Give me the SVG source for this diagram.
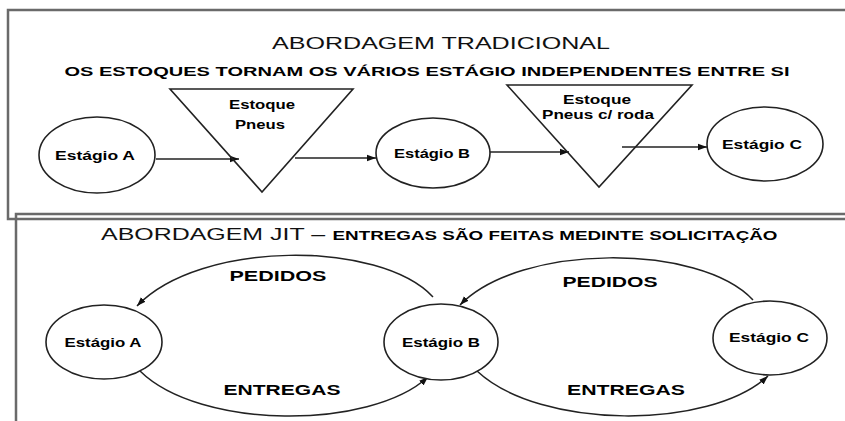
<svg xmlns="http://www.w3.org/2000/svg" width="845" height="421" viewBox="0 0 845 421">
<defs>
<marker id="ah" markerUnits="userSpaceOnUse" markerWidth="10" markerHeight="8" refX="9" refY="4" orient="auto">
<path d="M0,0.8 L9,4 L0,7.2 Z" fill="#111"/>
</marker>
<style>
.frame{fill:none;stroke:#6a6a6a;stroke-width:2.5}
.node{fill:#fff;stroke:#222;stroke-width:1.6}
.tri{fill:#fff;stroke:#222;stroke-width:1.6}
.con{fill:none;stroke:#222;stroke-width:1.5}
.title{font-family:"Liberation Sans",Arial,sans-serif;font-size:17px;fill:#111;text-anchor:middle}
.bold{font-family:"Liberation Sans",Arial,sans-serif;font-weight:bold;fill:#000;text-anchor:middle}
.lbl{font-family:"Liberation Sans",Arial,sans-serif;font-weight:bold;font-size:12px;fill:#000;text-anchor:middle}
.elbl{font-family:"Liberation Sans",Arial,sans-serif;font-weight:bold;font-size:14px;fill:#000;text-anchor:middle}
</style>
</defs>
<rect width="845" height="421" fill="#fff"/>

<g id="frames">
<rect class="frame" x="8" y="10" width="850" height="209"/>
<rect class="frame" x="16" y="214" width="850" height="220"/>
</g>

<g id="titles">
<text class="title" x="441" y="49" textLength="338" lengthAdjust="spacingAndGlyphs">ABORDAGEM TRADICIONAL</text>
<text class="bold" x="427" y="76" font-size="13" textLength="725" lengthAdjust="spacingAndGlyphs">OS ESTOQUES TORNAM OS VÁRIOS ESTÁGIO INDEPENDENTES ENTRE SI</text>
<text class="title" x="213" y="240" text-anchor="middle" textLength="224" lengthAdjust="spacingAndGlyphs">ABORDAGEM JIT –</text>
<text class="bold" x="555" y="240" font-size="13" textLength="445" lengthAdjust="spacingAndGlyphs">ENTREGAS SÃO FEITAS MEDINTE SOLICITAÇÃO</text>
</g>

<g id="connectors">
<line class="con" x1="156" y1="159" x2="239" y2="159" marker-end="url(#ah)"/>
<line class="con" x1="295" y1="158" x2="376" y2="158" marker-end="url(#ah)"/>
<line class="con" x1="488" y1="152" x2="569" y2="152" marker-end="url(#ah)"/>
<line class="con" x1="622" y1="147" x2="707" y2="147" marker-end="url(#ah)"/>
<path class="con" d="M433,297 C380,240 200,240 137,306" marker-end="url(#ah)"/>
<path class="con" d="M140,371 C200,430 370,430 428,377" marker-end="url(#ah)"/>
<path class="con" d="M753,300 C700,243 520,243 460,305" marker-end="url(#ah)"/>
<path class="con" d="M477,371 C540,430 710,430 768,376" marker-end="url(#ah)"/>
</g>

<g id="stock1">
<polygon class="tri" points="170,89 353,89 262,192" fill-opacity="0"/>
<text class="lbl" x="262" y="109" textLength="66" lengthAdjust="spacingAndGlyphs">Estoque</text>
<text class="lbl" x="260" y="129" textLength="50" lengthAdjust="spacingAndGlyphs">Pneus</text>
</g>
<g id="stock2">
<polygon class="tri" points="507,85 692,85 599,187" fill-opacity="0"/>
<text class="lbl" x="597" y="104" textLength="68" lengthAdjust="spacingAndGlyphs">Estoque</text>
<text class="lbl" x="598" y="119" textLength="112" lengthAdjust="spacingAndGlyphs">Pneus c/ roda</text>
</g>

<g id="stageA_top">
<ellipse class="node" cx="97" cy="155" rx="58" ry="38"/>
<text class="lbl" x="95" y="160" textLength="80" lengthAdjust="spacingAndGlyphs">Estágio A</text>
</g>
<g id="stageB_top">
<ellipse class="node" cx="433" cy="153" rx="57" ry="35"/>
<text class="lbl" x="432" y="158" textLength="76" lengthAdjust="spacingAndGlyphs">Estágio B</text>
</g>
<g id="stageC_top">
<ellipse class="node" cx="765" cy="144" rx="58" ry="37"/>
<text class="lbl" x="762" y="149" textLength="80" lengthAdjust="spacingAndGlyphs">Estágio C</text>
</g>

<g id="stageA_jit">
<ellipse class="node" cx="104" cy="342" rx="58" ry="37"/>
<text class="lbl" x="103" y="347" textLength="77" lengthAdjust="spacingAndGlyphs">Estágio A</text>
</g>
<g id="stageB_jit">
<ellipse class="node" cx="441" cy="342" rx="57" ry="38"/>
<text class="lbl" x="441" y="347" textLength="78" lengthAdjust="spacingAndGlyphs">Estágio B</text>
</g>
<g id="stageC_jit">
<ellipse class="node" cx="770" cy="338" rx="57" ry="37"/>
<text class="lbl" x="769" y="342" textLength="80" lengthAdjust="spacingAndGlyphs">Estágio C</text>
</g>

<g id="labels">
<text class="elbl" x="278" y="281" textLength="97" lengthAdjust="spacingAndGlyphs">PEDIDOS</text>
<text class="elbl" x="282" y="395" textLength="117" lengthAdjust="spacingAndGlyphs">ENTREGAS</text>
<text class="elbl" x="610" y="287" textLength="95" lengthAdjust="spacingAndGlyphs">PEDIDOS</text>
<text class="elbl" x="626" y="395" textLength="118" lengthAdjust="spacingAndGlyphs">ENTREGAS</text>
</g>
</svg>
